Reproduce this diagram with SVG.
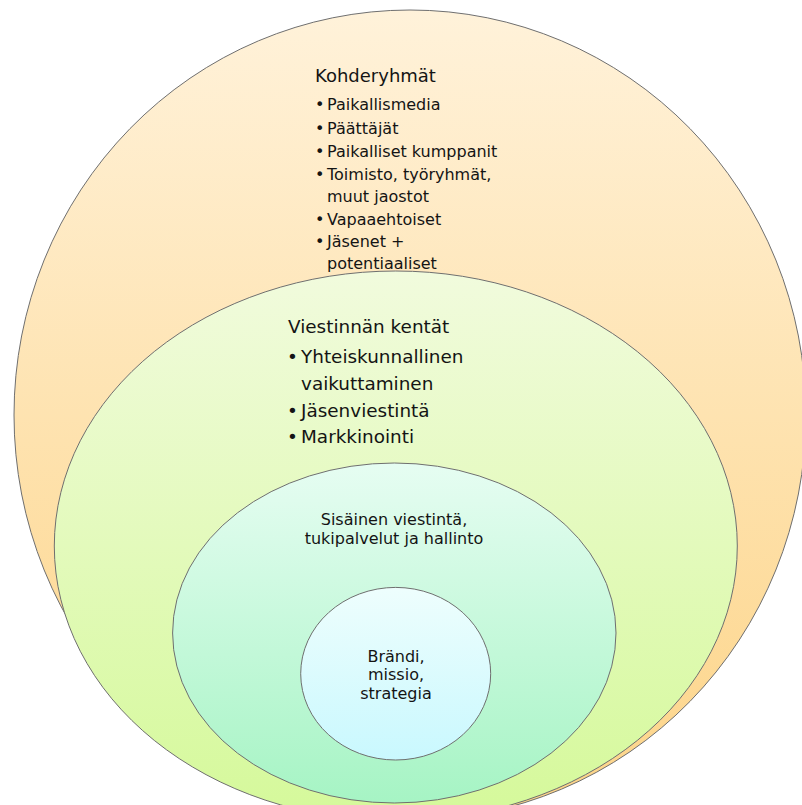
<svg xmlns="http://www.w3.org/2000/svg" width="802" height="805" viewBox="0 0 802 805">
<defs>
<linearGradient id="gOrange" x1="0" y1="0" x2="0" y2="1">
<stop offset="0" stop-color="#FFF2DA"/>
<stop offset="1" stop-color="#FDD487"/>
</linearGradient>
<linearGradient id="gGreen" x1="0" y1="0" x2="0" y2="1">
<stop offset="0" stop-color="#F1FBDD"/>
<stop offset="1" stop-color="#D5F99A"/>
</linearGradient>
<linearGradient id="gMint" x1="0" y1="0" x2="0" y2="1">
<stop offset="0" stop-color="#E6FDF2"/>
<stop offset="1" stop-color="#A6F4C4"/>
</linearGradient>
<linearGradient id="gCyan" x1="0" y1="0" x2="0" y2="1">
<stop offset="0" stop-color="#EEFEFD"/>
<stop offset="1" stop-color="#C9F8FE"/>
</linearGradient>
</defs>
<style>
.shape{stroke:#6f6f6f;stroke-width:1}
text{font-family:"DejaVu Sans","Noto Sans",sans-serif;fill:#141414}
.t16{font-size:16px}
.t18{font-size:18px}
.t184{font-size:18.4px}
.c{text-anchor:middle}
</style>
<rect width="802" height="805" fill="#FFFFFF"/>
<g id="kohderyhmat">
<ellipse class="shape" cx="410" cy="415" rx="396" ry="405" fill="url(#gOrange)"/>
<text class="t18" x="315" y="82">Kohderyhmät</text>
<g class="t16">
<text x="315" y="110">•</text><text x="327" y="110">Paikallismedia</text>
<text x="315" y="133.5">•</text><text x="327" y="133.5">Päättäjät</text>
<text x="315" y="157">•</text><text x="327" y="157">Paikalliset kumppanit</text>
<text x="315" y="180">•</text><text x="327" y="180">Toimisto, työryhmät,</text>
<text x="327" y="202">muut jaostot</text>
<text x="315" y="225">•</text><text x="327" y="225">Vapaaehtoiset</text>
<text x="315" y="247">•</text><text x="327" y="247">Jäsenet +</text>
<text x="327" y="269">potentiaaliset</text>
</g>
</g>
<g id="viestinnan-kentat">
<ellipse class="shape" cx="395.8" cy="546" rx="341.5" ry="275" fill="url(#gGreen)"/>
<g class="t184">
<text x="288" y="333">Viestinnän kentät</text>
<text x="287" y="363">•</text><text x="301" y="363">Yhteiskunnallinen</text>
<text x="301" y="390">vaikuttaminen</text>
<text x="287" y="417">•</text><text x="301" y="417">Jäsenviestintä</text>
<text x="287" y="443">•</text><text x="301" y="443">Markkinointi</text>
</g>
</g>
<g id="sisainen-viestinta">
<ellipse class="shape" cx="394.3" cy="633" rx="221.7" ry="170" fill="url(#gMint)"/>
<text class="t16 c" x="394" y="524.5">Sisäinen viestintä,</text>
<text class="t16 c" x="394" y="543.5">tukipalvelut ja hallinto</text>
</g>
<g id="brandi">
<ellipse class="shape" cx="395.7" cy="673.7" rx="95" ry="86.3" fill="url(#gCyan)"/>
<text class="t16 c" x="396" y="662">Brändi,</text>
<text class="t16 c" x="396" y="680">missio,</text>
<text class="t16 c" x="396" y="698.5">strategia</text>
</g>
<g id="connectors"/>
</svg>
